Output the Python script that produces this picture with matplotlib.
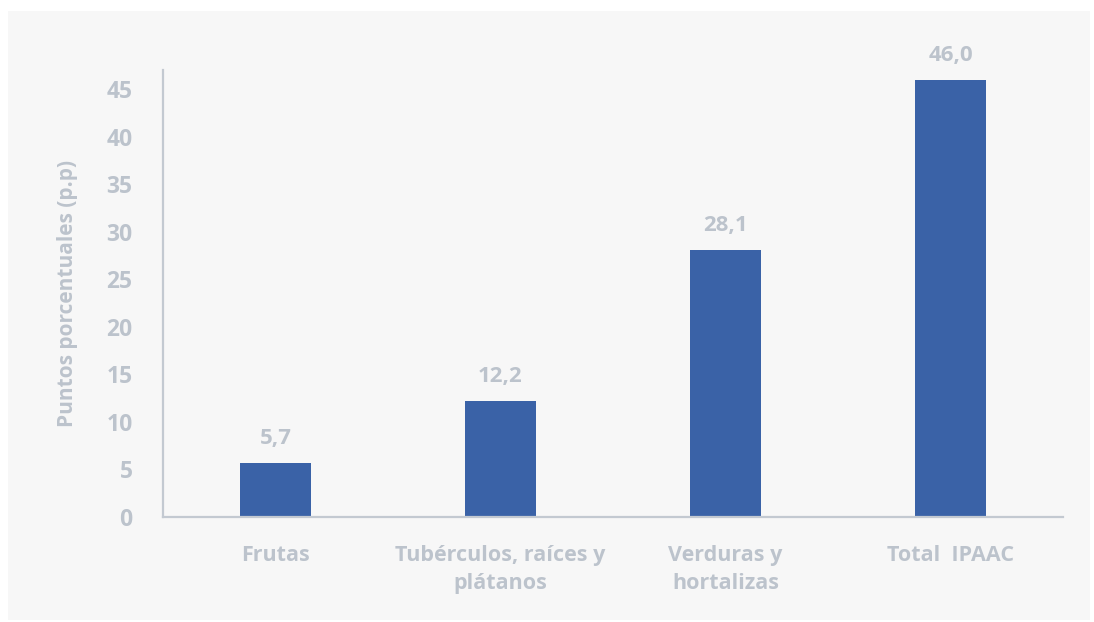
import matplotlib.pyplot as plt
from matplotlib.patches import Rectangle

categories = ['Frutas', 'Tubérculos, raíces y\nplátanos', 'Verduras y\nhortalizas', 'Total  IPAAC']
values = [5.7, 12.2, 28.1, 46.0]
yticks = [0, 5, 10, 15, 20, 25, 30, 35, 40, 45]

bar_color = '#3a62a7'
text_color = '#bcc3cc'
spine_color = '#c3c9d1'

plt.rcParams['font.family'] = ['Open Sans', 'DejaVu Sans']

fig = plt.figure(figsize=(10.94, 6.22), dpi=100)
fig.patch.set_facecolor('white')
fig.patches.append(Rectangle((8 / 1094, 2 / 622), 1082 / 1094, 609 / 622,
                             transform=fig.transFigure, facecolor='#f7f7f7',
                             edgecolor='none', zorder=-10))

ax = fig.add_axes([163 / 1094, 105 / 622, 900 / 1094, 447 / 622])
ax.set_facecolor('none')

x = range(len(categories))
bars = ax.bar(x, values, width=0.315, color=bar_color, zorder=2)

for xi, v in zip(x, values):
    ax.annotate(f'{v:.1f}'.replace('.', ','), (xi, v), xytext=(0, 10),
                textcoords='offset points', ha='center', va='bottom',
                fontsize=16, color=text_color, fontweight='bold')

ax.set_xlim(-0.5, 3.5)
ax.set_ylim(0, 47)
ax.set_yticks(yticks)
ax.set_xticks(list(x))
ax.set_xticklabels(categories, fontsize=15.5, color=text_color, fontweight='bold',
                   linespacing=1.45, va='top')
for lab in ax.get_yticklabels():
    lab.set_fontweight('bold')
ax.tick_params(axis='y', length=0, pad=22, labelsize=16.5, labelcolor=text_color)
ax.tick_params(axis='x', length=0, pad=20)

for s in ['top', 'right']:
    ax.spines[s].set_visible(False)
for s in ['left', 'bottom']:
    ax.spines[s].set_color(spine_color)
    ax.spines[s].set_linewidth(1.6)

ax.set_ylabel('Puntos porcentuales (p.p)', fontsize=15, color=text_color,
              fontweight='bold', labelpad=20)

fig.savefig('out.png', dpi=100, facecolor=fig.get_facecolor())
